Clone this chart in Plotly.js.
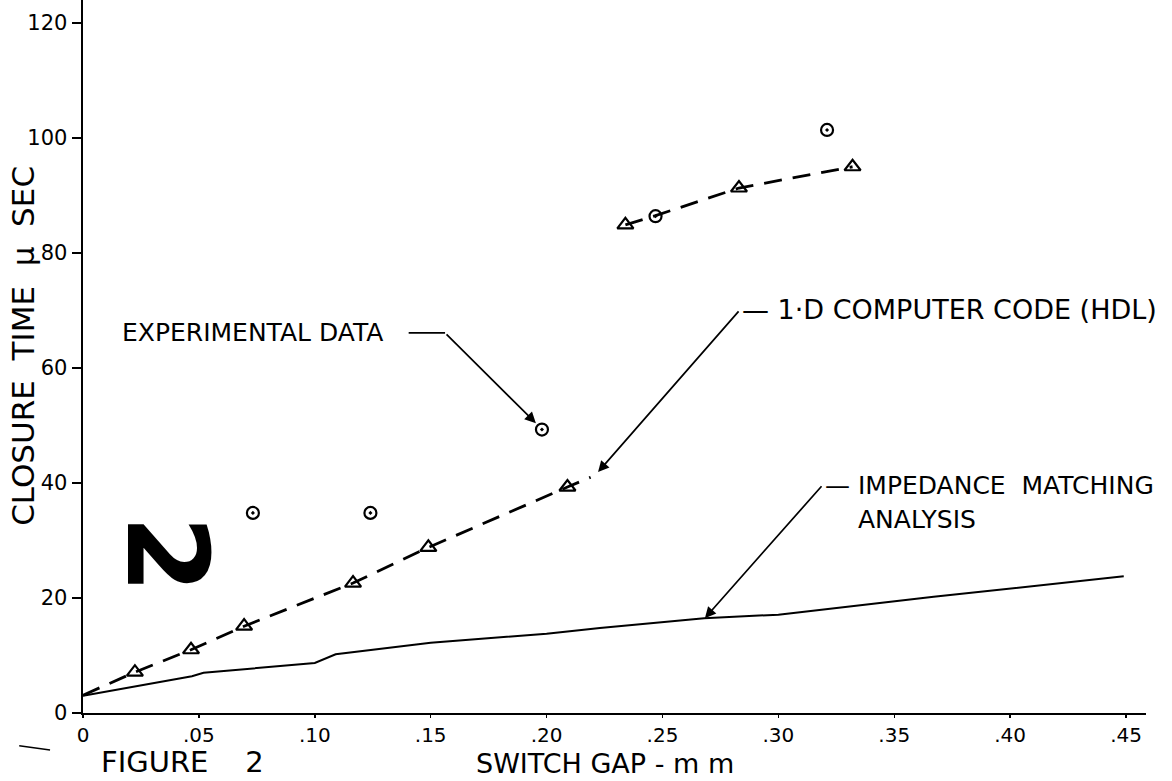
<!DOCTYPE html>
<html>
<head>
<meta charset="utf-8">
<script src="https://cdn.plot.ly/plotly-3.0.1.min.js"></script>
<style>html,body{margin:0;padding:0;background:#fff}#chart{width:1172px;height:781px}</style>
</head>
<body>
<div id="chart"></div>
<script>
// 1-D computer code (HDL) computed points (triangles)
const hdlX = [0.0224, 0.0466, 0.0695, 0.1165, 0.149, 0.209, 0.234, 0.283, 0.332];
const hdlY = [7.1, 11.0, 15.1, 22.6, 28.8, 39.3, 84.9, 91.3, 95.0];
// dashed curve drawn through the HDL results (two pieces)
const hdlCurveX = [0, 0.0224, 0.0466, 0.0695, 0.1165, 0.149, 0.209, 0.219, null, 0.234, 0.247, 0.283, 0.332];
const hdlCurveY = [3.1, 7.1, 11.0, 15.1, 22.6, 28.8, 39.3, 41.0, null, 84.9, 86.5, 91.3, 95.0];
// experimental data (circles with dot)
const expX = [0.0733, 0.124, 0.198, 0.247, 0.321];
const expY = [34.8, 34.8, 49.3, 86.4, 101.4];
// impedance matching analysis (solid curve)
const impX = [0, 0.047, 0.052, 0.10, 0.109, 0.15, 0.20, 0.223, 0.268, 0.30, 0.367, 0.449];
const impY = [3.0, 6.4, 7.0, 8.7, 10.2, 12.2, 13.8, 14.8, 16.5, 17.1, 20.2, 23.8];
// axis ticks
const xTickVals = [0, 0.05, 0.10, 0.15, 0.20, 0.25, 0.30, 0.35, 0.40, 0.45];
const xTickText = ['0', '.05', '.10', '.15', '.20', '.25', '.30', '.35', '.40', '.45'];
const yTickVals = [0, 20, 40, 60, 80, 100, 120];
const yTickText = ['0', '20', '40', '60', '80', '100', '120'];

const FONT = 'DejaVu Sans, Liberation Sans, sans-serif';

const traces = [
  {x: impX, y: impY, mode: 'lines', type: 'scatter', line: {color: '#000', width: 2}, hoverinfo: 'skip'},
  {x: hdlCurveX, y: hdlCurveY, mode: 'lines', type: 'scatter', connectgaps: false,
   line: {color: '#000', width: 2.8, dash: '18px,11px'}, hoverinfo: 'skip'},
  {x: hdlX, y: hdlY, mode: 'markers', type: 'scatter',
   marker: {symbol: 'triangle-up-open', size: 14, color: '#000', line: {width: 2.2, color: '#000'}}},
  {x: expX, y: expY, mode: 'markers', type: 'scatter',
   marker: {symbol: 'circle-open-dot', size: 12, color: '#000', line: {width: 2.2, color: '#000'}}}
];

const layout = {
  width: 1172, height: 781,
  margin: {l: 83, r: 26, t: 0, b: 68},
  paper_bgcolor: '#fff', plot_bgcolor: '#fff',
  showlegend: false,
  font: {family: FONT, color: '#000'},
  xaxis: {
    range: [0, 0.4586], showgrid: false, zeroline: false,
    showline: true, linecolor: '#000', linewidth: 2.4,
    ticks: 'outside', ticklen: 3, tickwidth: 1.5, tickcolor: '#000',
    tickvals: xTickVals, ticktext: xTickText,
    tickfont: {family: FONT, size: 20, color: '#000'}
  },
  yaxis: {
    range: [0, 124], showgrid: false, zeroline: false,
    showline: true, linecolor: '#000', linewidth: 2.4,
    ticks: 'outside', ticklen: 9, tickwidth: 1.8, tickcolor: '#000',
    tickvals: yTickVals, ticktext: yTickText,
    tickfont: {family: FONT, size: 21, color: '#000'}
  },
  annotations: [
    // axis titles
    {text: 'CLOSURE  TIME  μ  SEC', xref: 'paper', yref: 'paper', x: -0.0564, y: 0.515,
     xanchor: 'center', yanchor: 'middle',
     textangle: -90, showarrow: false, font: {family: FONT, size: 31, color: '#000'}},
    {text: 'SWITCH GAP - m m', xref: 'paper', yref: 'paper', x: 0.491, y: -0.0954,
     xanchor: 'center', yanchor: 'bottom',
     showarrow: false, font: {family: FONT, size: 27, color: '#000'}},
    {text: 'FIGURE    2', xref: 'paper', yref: 'paper', x: 0.094, y: -0.0954,
     xanchor: 'center', yanchor: 'bottom',
     showarrow: false, font: {family: FONT, size: 29, color: '#000'}},
    // big hand-written figure number
    {text: '<b>2</b>', xref: 'x', yref: 'y', x: 0.0362, y: 27.6, textangle: 90,
     xanchor: 'center', yanchor: 'middle',
     showarrow: false, font: {family: FONT, size: 112, color: '#000'}},
    // labels
    {text: 'EXPERIMENTAL DATA', xref: 'x', yref: 'y', x: 0.016, y: 66.1, xanchor: 'left', yanchor: 'middle',
     showarrow: false, font: {family: FONT, size: 25, color: '#000'}},
    {text: '— 1·D COMPUTER CODE (HDL)', xref: 'x', yref: 'y', x: 0.2834, y: 70.1, xanchor: 'left', yanchor: 'middle',
     showarrow: false, font: {family: FONT, size: 27, color: '#000'}},
    {text: '— IMPEDANCE  MATCHING', xref: 'x', yref: 'y', x: 0.3192, y: 39.5, xanchor: 'left', yanchor: 'middle',
     showarrow: false, font: {family: FONT, size: 25, color: '#000'}},
    {text: 'ANALYSIS', xref: 'x', yref: 'y', x: 0.3335, y: 33.7, xanchor: 'left', yanchor: 'middle',
     showarrow: false, font: {family: FONT, size: 25, color: '#000'}},
    // leader arrows
    {x: 0.1954, y: 50.4, ax: 0.1562, ay: 66.1, axref: 'x', ayref: 'y', xref: 'x', yref: 'y',
     text: '', showarrow: true, arrowhead: 2, arrowsize: 1.3, arrowwidth: 1.7, arrowcolor: '#000'},
    {x: 0.2222, y: 41.9, ax: 0.2834, ay: 70.1, axref: 'x', ayref: 'y', xref: 'x', yref: 'y',
     text: '', showarrow: true, arrowhead: 2, arrowsize: 1.3, arrowwidth: 1.7, arrowcolor: '#000'},
    {x: 0.2683, y: 16.5, ax: 0.3192, ay: 39.7, axref: 'x', ayref: 'y', xref: 'x', yref: 'y',
     text: '', showarrow: true, arrowhead: 2, arrowsize: 1.3, arrowwidth: 1.7, arrowcolor: '#000'}
  ],
  shapes: [
    // short leader stroke after "EXPERIMENTAL DATA"
    {type: 'line', xref: 'x', yref: 'y', x0: 0.1405, y0: 66.1, x1: 0.1562, y1: 66.1,
     line: {color: '#000', width: 1.7}},
    // stray stroke left of FIGURE 2
    {type: 'line', xref: 'paper', yref: 'paper', x0: -0.06, y0: -0.046, x1: -0.031, y1: -0.052,
     line: {color: '#000', width: 1.5}}
  ]
};

Plotly.newPlot('chart', traces, layout, {staticPlot: true, displayModeBar: false});
</script>
</body>
</html>
